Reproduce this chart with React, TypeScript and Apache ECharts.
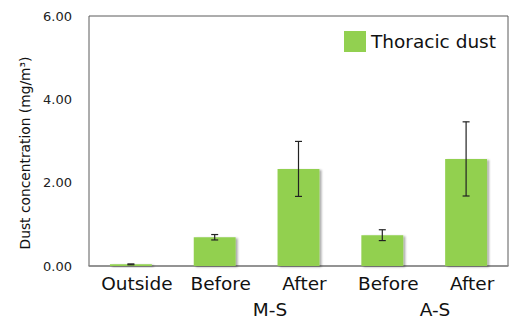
import React, { useEffect, useRef } from "react";
import * as echarts from "echarts";

const categories = ["Outside", "Before", "After", "Before", "After"];
const groupLabels = ["M-S", "A-S"];
const seriesName = "Thoracic dust";
const values = [0.04, 0.69, 2.33, 0.74, 2.57];
const errors = [0.01, 0.065, 0.66, 0.13, 0.89];
const yTicks = { min: 0, max: 6, interval: 2 };
const yTitle = "Dust concentration (mg/m³)";

const FONT = "'DejaVu Sans', sans-serif";

export default function App() {
  const ref = useRef<HTMLDivElement>(null);
  useEffect(() => {
    if (!ref.current) return;
    const chart = echarts.init(ref.current, null, { renderer: "svg" });
    const errData = values.map((v, i) => [i, v - errors[i], v + errors[i]]);
    chart.setOption({
      animation: false,
      backgroundColor: "#ffffff",
      grid: {
        left: 89,
        right: 19,
        top: 16,
        bottom: 53,
        show: true,
        borderColor: "#5a5a5a",
        borderWidth: 1,
      },
      legend: {
        data: [seriesName],
        left: 339,
        top: 26,
        itemWidth: 22,
        itemHeight: 21,
        itemGap: 7,
        icon: "rect",
        textStyle: { fontSize: 18.5, color: "#111", fontFamily: FONT },
      },
      xAxis: {
        type: "category",
        data: categories,
        axisLine: { lineStyle: { color: "#8a8a8a", width: 1.5 } },
        axisTick: { show: false },
        axisLabel: {
          fontSize: 18.5,
          color: "#111",
          margin: 8,
          fontFamily: FONT,
          interval: 0,
          padding: [0, 0, 0, 12],
        },
      },
      yAxis: {
        type: "value",
        min: yTicks.min,
        max: yTicks.max,
        interval: yTicks.interval,
        splitLine: { show: false },
        axisLine: { show: false },
        axisTick: { show: false },
        axisLabel: {
          fontSize: 13,
          color: "#222",
          margin: 17,
          fontFamily: FONT,
          formatter: (v: number) => v.toFixed(2),
        },
      },
      graphic: [
        {
          type: "text",
          x: 25,
          y: 153,
          rotation: Math.PI / 2,
          style: {
            text: yTitle,
            fontSize: 13.8,
            fill: "#111",
            fontFamily: FONT,
            align: "center",
            verticalAlign: "middle",
          },
        },
        {
          type: "text",
          x: 270,
          y: 309,
          style: {
            text: groupLabels[0],
            fontSize: 18.5,
            fill: "#111",
            fontFamily: FONT,
            align: "center",
            verticalAlign: "middle",
          },
        },
        {
          type: "text",
          x: 435,
          y: 309,
          style: {
            text: groupLabels[1],
            fontSize: 18.5,
            fill: "#111",
            fontFamily: FONT,
            align: "center",
            verticalAlign: "middle",
          },
        },
      ],
      series: [
        {
          name: seriesName,
          type: "bar",
          data: values,
          barWidth: "50%",
          itemStyle: {
            color: "#92D050",
            shadowColor: "rgba(0,0,0,0.35)",
            shadowBlur: 2,
            shadowOffsetX: 2,
            shadowOffsetY: 1,
          },
          z: 2,
        },
        {
          type: "custom",
          data: errData,
          z: 3,
          renderItem: (params: any, api: any) => {
            const x = api.value(0);
            const lo = api.coord([x, api.value(1)]);
            const hi = api.coord([x, api.value(2)]);
            const cap = 3.5;
            const style = { stroke: "#222", lineWidth: 1.2 };
            return {
              type: "group",
              children: [
                { type: "line", shape: { x1: lo[0], y1: lo[1], x2: hi[0], y2: hi[1] }, style },
                { type: "line", shape: { x1: hi[0] - cap, y1: hi[1], x2: hi[0] + cap, y2: hi[1] }, style },
                { type: "line", shape: { x1: lo[0] - cap, y1: lo[1], x2: lo[0] + cap, y2: lo[1] }, style },
              ],
            };
          },
        },
      ],
    });
    return () => chart.dispose();
  }, []);
  return (
    <div
      ref={ref}
      style={{ position: "fixed", left: 0, top: 0, width: 527, height: 319 }}
    />
  );
}
